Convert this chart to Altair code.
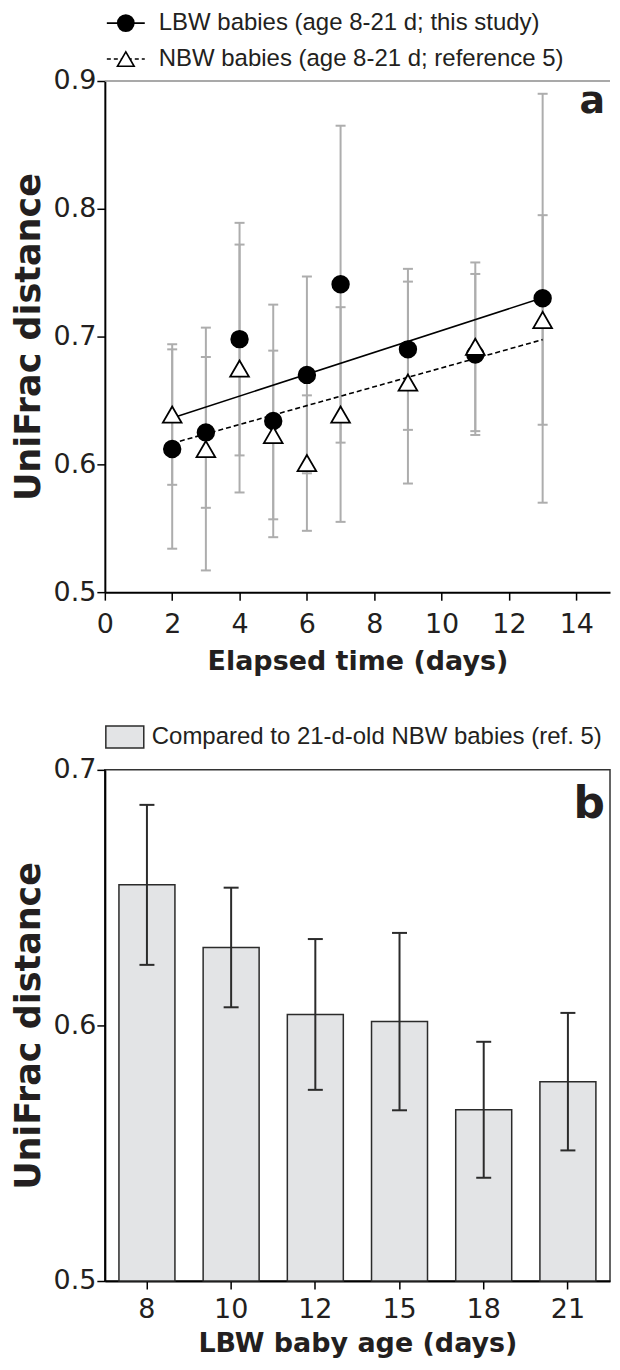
import altair as alt
import pandas as pd

# ---------------- data ----------------
days = [2, 3, 4, 5, 6, 7, 9, 11, 13]
lbw_mean = [0.612, 0.625, 0.698, 0.634, 0.670, 0.741, 0.690, 0.686, 0.730]
lbw_sd = [0.078, 0.059, 0.091, 0.091, 0.077, 0.124, 0.063, 0.063, 0.160]
nbw_mean = [0.639, 0.612, 0.675, 0.623, 0.601, 0.639, 0.664, 0.692, 0.713]
nbw_sd = [0.055, 0.095, 0.097, 0.066, 0.053, 0.084, 0.079, 0.066, 0.082]

ages = ["8", "10", "12", "15", "18", "21"]
cmp_mean = [0.655, 0.6305, 0.6043, 0.6015, 0.567, 0.578]
cmp_sd = [0.0313, 0.0234, 0.0295, 0.0347, 0.0266, 0.0269]

legend_a = ["LBW babies (age 8-21 d; this study)", "NBW babies (age 8-21 d; reference 5)"]
legend_b = ["Compared to 21-d-old NBW babies (ref. 5)"]

# ---------------- tables ----------------
def table(means, sds, key, labels):
    return pd.DataFrame({
        key: labels,
        "mean": means,
        "lo": [m - s for m, s in zip(means, sds)],
        "hi": [m + s for m, s in zip(means, sds)],
    })

df_lbw = table(lbw_mean, lbw_sd, "day", days)
df_nbw = table(nbw_mean, nbw_sd, "day", days)
df_err = pd.concat([df_lbw, df_nbw], ignore_index=True)
df_b = table(cmp_mean, cmp_sd, "age", ages)
one = pd.DataFrame({"k": [0]})

# ---------------- style ----------------
AX_FONT = "DejaVu Sans"
LEG_FONT = "Liberation Sans"
INK = "#231f20"
GRAY = "#adadad"
DARK = "#2b2b2b"
W = 506
HA = 512
HB = 512

COMMON = dict(grid=False, domainColor="black", domainWidth=2, tickColor="black",
              tickWidth=1.5, tickSize=8, labelFont=AX_FONT, labelFontSize=27,
              labelColor=INK, titleFont=AX_FONT, titleFontWeight="bold", titleColor=INK)

xs = alt.Scale(domain=[0, 15], nice=False, zero=False)
ys = alt.Scale(domain=[0.5, 0.9], nice=False, zero=False)

x_axis_a = alt.Axis(values=list(range(0, 15, 2)), title="Elapsed time (days)",
                    labelFlush=False, labelPadding=11, titlePadding=11,
                    titleFontSize=27, **COMMON)
y_axis_a = alt.Axis(values=[0.5, 0.6, 0.7, 0.8, 0.9], format=".1f", title="UniFrac distance",
                    labelPadding=1, titlePadding=7, titleFontSize=35, **COMMON)

XA = alt.X("day:Q", scale=xs, axis=x_axis_a)


def YA(field):
    return alt.Y(field, type="quantitative", scale=ys, axis=y_axis_a)


err_rule = alt.Chart(df_err).mark_rule(color=GRAY, strokeWidth=2).encode(
    x=XA, y=YA("lo"), y2="hi:Q")
cap_lo = alt.Chart(df_err).mark_tick(orient="horizontal", size=10, thickness=2,
                                     color=GRAY, opacity=1).encode(x=XA, y=YA("lo"))
cap_hi = alt.Chart(df_err).mark_tick(orient="horizontal", size=10, thickness=2,
                                     color=GRAY, opacity=1).encode(x=XA, y=YA("hi"))

reg_lbw = alt.Chart(df_lbw).transform_regression("day", "mean").mark_line(
    color="black", strokeWidth=1.6).encode(x=XA, y=YA("mean"))
reg_nbw = alt.Chart(df_nbw).transform_regression("day", "mean").mark_line(
    color="black", strokeWidth=1.6, strokeDash=[5, 3]).encode(x=XA, y=YA("mean"))

pts_lbw = alt.Chart(df_lbw).mark_point(shape="circle", filled=True, fill="black",
                                       stroke="black", size=270, opacity=1).encode(
    x=XA, y=YA("mean"))
pts_nbw = alt.Chart(df_nbw).mark_point(shape="triangle-up", filled=True, fill="white",
                                       stroke="black", strokeWidth=1.8, size=350,
                                       opacity=1).encode(x=XA, y=YA("mean"))

top_a = alt.Chart(one).mark_rule(color="#8c8c8c", strokeWidth=1.5).encode(
    x=alt.value(0), x2=alt.value(W), y=alt.value(0))

# legend of panel a
leg_line1 = alt.Chart(one).mark_rule(color="black", strokeWidth=1.6).encode(
    x=alt.value(2), x2=alt.value(40), y=alt.value(-58))
leg_line2 = alt.Chart(one).mark_rule(color="black", strokeWidth=1.4, strokeDash=[4, 3]).encode(
    x=alt.value(2), x2=alt.value(40), y=alt.value(-22))
leg_pt1 = alt.Chart(one).mark_point(shape="circle", filled=True, fill="black", stroke="black",
                                    size=250, opacity=1).encode(
    x=alt.value(21), y=alt.value(-58))
leg_pt2 = alt.Chart(one).mark_point(shape="triangle-up", filled=True, fill="white",
                                    stroke="black", strokeWidth=1.6, size=280, opacity=1).encode(
    x=alt.value(21), y=alt.value(-22))
leg_t1 = alt.Chart(one).mark_text(align="left", baseline="middle", font=LEG_FONT,
                                  fontSize=24, color=INK).encode(
    x=alt.value(54), y=alt.value(-58), text=alt.value(legend_a[0]))
leg_t2 = alt.Chart(one).mark_text(align="left", baseline="middle", font=LEG_FONT,
                                  fontSize=24, color=INK).encode(
    x=alt.value(54), y=alt.value(-22), text=alt.value(legend_a[1]))
letter_a = alt.Chart(one).mark_text(align="right", baseline="alphabetic", font=AX_FONT,
                                    fontWeight="bold", fontSize=38, color=INK).encode(
    x=alt.value(W - 5), y=alt.value(32), text=alt.value("a"))

panel_a = alt.layer(err_rule, cap_lo, cap_hi, reg_lbw, reg_nbw, pts_lbw, pts_nbw,
                    top_a, leg_line1, leg_line2, leg_pt1, leg_pt2, leg_t1, leg_t2,
                    letter_a).properties(width=W, height=HA)

# ---------------- panel b ----------------
ysb = alt.Scale(domain=[0.5, 0.7], nice=False, zero=False)
xb_scale = alt.Scale(paddingInner=0.335, paddingOuter=0.1675)
x_axis_b = alt.Axis(labelAngle=0, title="LBW baby age (days)", labelPadding=8,
                    titlePadding=8, titleFontSize=27, **COMMON)
y_axis_b = alt.Axis(values=[0.5, 0.6, 0.7], format=".1f", title="UniFrac distance",
                    labelPadding=1, titlePadding=7, titleFontSize=35, **COMMON)
XB = alt.X("age:O", sort=ages, scale=xb_scale, axis=x_axis_b)


def YB(field):
    return alt.Y(field, type="quantitative", scale=ysb, axis=y_axis_b)


bars = alt.Chart(df_b).mark_bar(fill="#e3e4e6", stroke=DARK, strokeWidth=1.5).encode(
    x=XB, y=YB("mean"), y2=alt.datum(0.5))
err_b = alt.Chart(df_b).mark_rule(color=DARK, strokeWidth=2).encode(
    x=XB, y=YB("lo"), y2="hi:Q")
cap_b_lo = alt.Chart(df_b).mark_tick(orient="horizontal", size=15, thickness=2,
                                     color=DARK, opacity=1).encode(x=XB, y=YB("lo"))
cap_b_hi = alt.Chart(df_b).mark_tick(orient="horizontal", size=15, thickness=2,
                                     color=DARK, opacity=1).encode(x=XB, y=YB("hi"))

leg_box = alt.Chart(one).mark_rect(fill="#e3e4e6", stroke=DARK, strokeWidth=1.5).encode(
    x=alt.value(1), x2=alt.value(39), y=alt.value(-44), y2=alt.value(-22))
leg_tb = alt.Chart(one).mark_text(align="left", baseline="middle", font=LEG_FONT,
                                  fontSize=24, color=INK).encode(
    x=alt.value(47), y=alt.value(-33), text=alt.value(legend_b[0]))
letter_b = alt.Chart(one).mark_text(align="right", baseline="alphabetic", font=AX_FONT,
                                    fontWeight="bold", fontSize=44, color=INK).encode(
    x=alt.value(W - 5), y=alt.value(48), text=alt.value("b"))

panel_b = alt.layer(bars, err_b, cap_b_lo, cap_b_hi, leg_box, leg_tb, letter_b).properties(
    width=W, height=HB, view=alt.ViewBackground(stroke="#333333", strokeWidth=1.5))

chart = alt.vconcat(panel_a, panel_b, spacing=49).properties(
    padding={"left": 2, "top": 1, "right": 0, "bottom": 0}
).configure_view(stroke="transparent")

chart.save("out.html", embed_options={"renderer": "svg", "actions": False})
